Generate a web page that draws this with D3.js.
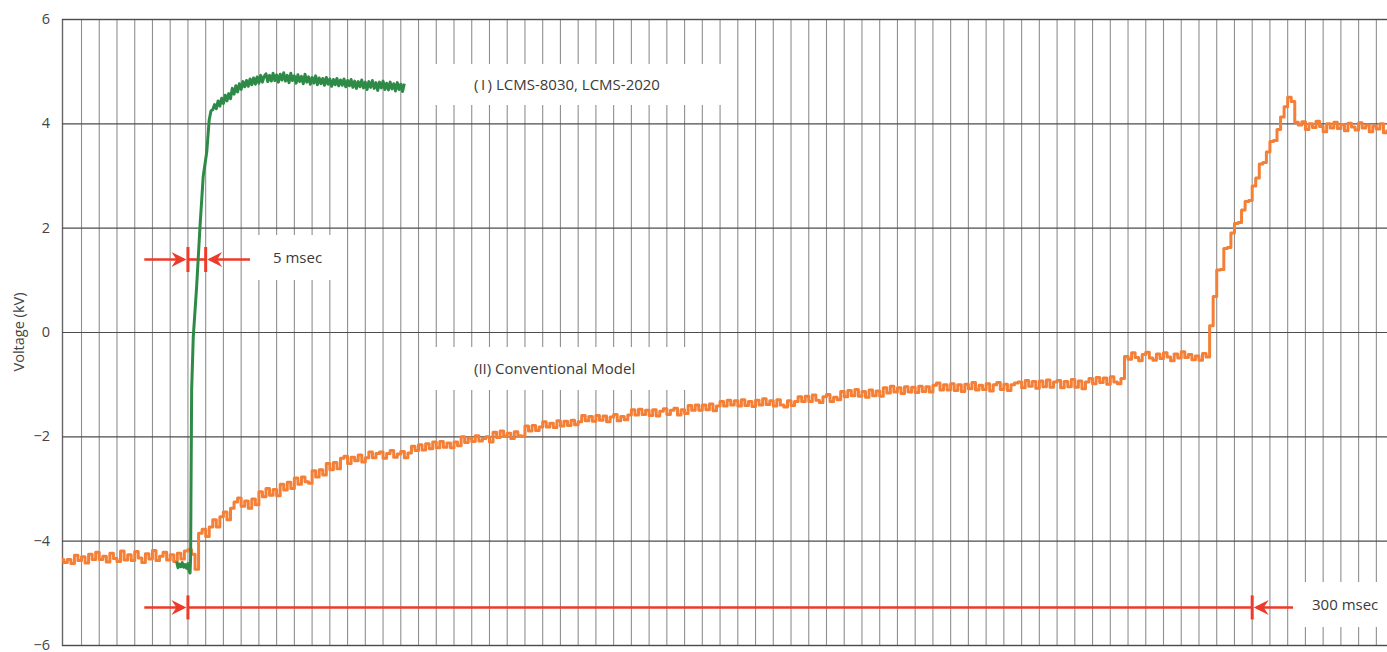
<!DOCTYPE html>
<html>
<head>
<meta charset="utf-8">
<script src="https://cdn.jsdelivr.net/npm/d3@7/dist/d3.min.js"></script>
<style>
  html, body { margin: 0; padding: 0; background: #fff; }
  svg { display: block; font-family: "Open Sans", "Noto Sans", sans-serif; }
</style>
</head>
<body>
<svg id="chart" width="1387" height="652"></svg>
<script>
// ---- Axis ticks -------------------------------------------------------
const voltageTicks = [-6, -4, -2, 0, 2, 4, 6];
const voltageTickLabels = ["\u22126", "\u22124", "\u22122", "0", "2", "4", "6"];
const axisTitle = "Voltage (kV)";

// ---- (II) Conventional model: oscilloscope samples, 1 ms apart ---------
const conventionalLabel = "(II) Conventional Model";
const conventionalStartMs = -36;
const conventionalStepMs = 1;
const conventionalKV = [
  -4.36, -4.42, -4.36, -4.44, -4.28, -4.38, -4.31, -4.43, -4.26, -4.36,
  -4.22, -4.36, -4.30, -4.41, -4.24, -4.34, -4.40, -4.20, -4.37, -4.27,
  -4.38, -4.21, -4.33, -4.42, -4.25, -4.35, -4.19, -4.38, -4.30, -4.22,
  -4.37, -4.27, -4.40, -4.24, -4.35, -4.20, -4.17, -4.26, -4.55, -3.86,
  -3.78, -3.92, -3.74, -3.60, -3.74, -3.54, -3.45, -3.60, -3.38, -3.26,
  -3.18, -3.34, -3.24, -3.38, -3.20, -3.31, -3.06, -3.16, -3.00, -3.13,
  -3.02, -3.14, -2.92, -3.03, -2.88, -3.00, -2.80, -2.92, -2.78, -2.87,
  -2.90, -2.66, -2.78, -2.64, -2.74, -2.52, -2.64, -2.50, -2.62, -2.42,
  -2.38, -2.52, -2.40, -2.47, -2.36, -2.49, -2.41, -2.30, -2.41, -2.33,
  -2.30, -2.42, -2.33, -2.27, -2.40, -2.34, -2.29, -2.41, -2.32, -2.19,
  -2.27, -2.16, -2.26, -2.14, -2.24, -2.11, -2.22, -2.10, -2.21, -2.13,
  -2.22, -2.11, -2.18, -2.01, -2.12, -2.03, -2.10, -1.99, -2.09, -2.04,
  -2.01, -2.11, -1.92, -2.02, -1.90, -2.00, -1.94, -2.04, -1.91, -1.99,
  -2.00, -1.80, -1.90, -1.79, -1.89, -1.82, -1.72, -1.82, -1.75, -1.83,
  -1.70, -1.80, -1.71, -1.79, -1.69, -1.78, -1.72, -1.60, -1.70, -1.62,
  -1.71, -1.60, -1.69, -1.61, -1.72, -1.63, -1.58, -1.70, -1.62, -1.68,
  -1.59, -1.49, -1.59, -1.48, -1.58, -1.50, -1.60, -1.49, -1.61, -1.52,
  -1.47, -1.58, -1.50, -1.46, -1.59, -1.49, -1.56, -1.41, -1.50, -1.40,
  -1.50, -1.40, -1.49, -1.38, -1.51, -1.42, -1.33, -1.42, -1.31, -1.40,
  -1.32, -1.42, -1.30, -1.41, -1.33, -1.43, -1.31, -1.40, -1.28, -1.39,
  -1.32, -1.42, -1.30, -1.40, -1.44, -1.32, -1.41, -1.33, -1.24, -1.33,
  -1.23, -1.33, -1.21, -1.31, -1.35, -1.24, -1.20, -1.33, -1.25, -1.30,
  -1.14, -1.24, -1.12, -1.22, -1.10, -1.23, -1.14, -1.25, -1.11, -1.22,
  -1.13, -1.23, -1.07, -1.17, -1.04, -1.15, -1.07, -1.18, -1.05, -1.15,
  -1.06, -1.16, -1.04, -1.14, -1.05, -1.15, -1.02, -0.98, -1.11, -1.01,
  -1.11, -0.99, -1.12, -1.01, -1.14, -1.00, -1.09, -0.97, -1.11, -1.02,
  -1.10, -0.99, -1.13, -1.01, -0.97, -1.10, -1.00, -1.12, -1.01, -0.98,
  -0.96, -1.07, -0.93, -1.04, -0.95, -1.08, -0.94, -1.05, -0.92, -1.06,
  -0.96, -0.93, -1.07, -0.95, -1.05, -0.91, -1.06, -0.94, -1.09, -0.96,
  -0.89, -0.99, -0.87, -0.97, -0.88, -1.00, -0.86, -0.96, -0.99, -0.89,
  -0.47, -0.52, -0.40, -0.49, -0.55, -0.43, -0.39, -0.50, -0.54, -0.42,
  -0.51, -0.40, -0.48, -0.55, -0.42, -0.50, -0.38, -0.49, -0.43, -0.53,
  -0.46, -0.54, -0.41, -0.48,
   0.12,  0.68,  1.19,  1.20,  1.60,  1.62,  1.90,  2.08,  2.10,  2.34,
   2.50,  2.52,  2.80,  2.95,  3.22,  3.25,  3.45,  3.65,  3.67,  3.88,
   4.12,  4.32,  4.50,  4.42,  4.02,
   3.97,  4.03,  3.88,  3.99,  3.92,  4.04,  3.94,  3.84,  3.99,  3.91,
   4.02,  3.90,  3.98,  3.86,  4.00,  3.93,  3.87,  4.01,  3.91,  3.97,
   3.84,  3.95,  3.89,  3.99,  3.82,  3.88
];

// ---- (I) LCMS-8030 / LCMS-2020: switching edge, then 0.5 ms samples ----
const lcmsLabel = "(\u2009I\u2009) LCMS-8030, LCMS-2020";
const lcmsEdgeMs = [-3.2, -2.8, -2.4, -2.0, -1.6, -1.2, -0.8, -0.4, 0.0, 0.3, 0.6,
                    0.75, 0.9, 1.05, 1.5, 2.45, 3.4, 4.3, 5.3, 6.0, 6.5];
const lcmsEdgeKV = [-4.40, -4.52, -4.45, -4.50, -4.42, -4.51, -4.46, -4.53, -4.44, -4.58, -4.62,
                    -4.35, -2.65, -1.10, -0.10, 0.87, 2.02, 2.98, 3.45, 4.07, 4.24];
const lcmsPlateauStartMs = 7;
const lcmsPlateauStepMs = 0.5;
const lcmsPlateauKV = [
  4.26, 4.36, 4.28, 4.43, 4.33, 4.48, 4.38, 4.54, 4.43, 4.57,
  4.47, 4.67, 4.56, 4.72, 4.60, 4.76, 4.65, 4.80, 4.70, 4.82,
  4.71, 4.85, 4.74, 4.87, 4.75, 4.89, 4.77, 4.92, 4.79, 4.90,
  4.95, 4.80, 4.92, 4.81, 4.96, 4.82, 4.93, 4.79, 4.94, 4.83,
  4.97, 4.81, 4.92, 4.78, 4.96, 4.82, 4.91, 4.77, 4.93, 4.80,
  4.90, 4.76, 4.94, 4.79, 4.89, 4.75, 4.88, 4.77, 4.91, 4.74,
  4.87, 4.76, 4.86, 4.73, 4.88, 4.75, 4.85, 4.71, 4.84, 4.74,
  4.86, 4.72, 4.83, 4.73, 4.85, 4.70, 4.82, 4.72, 4.84, 4.69,
  4.81, 4.67, 4.80, 4.70, 4.83, 4.68, 4.79, 4.65, 4.80, 4.69,
  4.82, 4.67, 4.78, 4.63, 4.79, 4.68, 4.81, 4.65, 4.77, 4.64,
  4.79, 4.66, 4.76, 4.62, 4.78, 4.65, 4.75, 4.61, 4.76
];

// ---- Timing annotations -------------------------------------------------
const switchMarksMs = [0, 5];         // "5 msec" bracket
const switchLabel = "5 msec";
const conventionalMarksMs = [0, 300]; // "300 msec" bracket
const conventionalSpanLabel = "300 msec";

// ---- Layout -------------------------------------------------------------
const W = 1387, H = 652;
const plot = { left: 62, right: 1387, top: 19, bottom: 645 };
const colors = {
  conventional: "#f47f36",
  lcms: "#2e8b47",
  marker: "#ee3a2a",
  grid: "#8f8f8f",
  major: "#4d4d4d",
  text: "#3a3a3a"
};
const labelSize = 15;

const svg = d3.select("#chart");
svg.append("rect").attr("width", W).attr("height", H).attr("fill", "#fff");

const x = d3.scaleLinear().domain([-35.5, 338]).range([plot.left, plot.right]);
const y = d3.scaleLinear().domain([-6, 6]).range([plot.bottom, plot.top]);

svg.append("defs").append("clipPath").attr("id", "plotClip")
  .append("rect")
  .attr("x", plot.left).attr("y", plot.top - 4)
  .attr("width", plot.right - plot.left).attr("height", plot.bottom - plot.top + 8);

// Vertical grid every 5 ms
const timeGrid = d3.range(-30, 338, 5);
svg.append("g").selectAll("line").data(timeGrid).join("line")
  .attr("x1", d => x(d)).attr("x2", d => x(d))
  .attr("y1", plot.top).attr("y2", plot.bottom)
  .attr("stroke", colors.grid).attr("stroke-width", 1.1);

// Horizontal grid every 2 kV with labels (d3 axis)
const yAxis = d3.axisLeft(y)
  .tickValues(voltageTicks)
  .tickFormat((d, i) => voltageTickLabels[i])
  .tickSize(-(plot.right - plot.left))
  .tickPadding(12);
const yg = svg.append("g").attr("transform", `translate(${plot.left},0)`).call(yAxis);
yg.select(".domain").attr("stroke", "#666").attr("stroke-width", 1.4);
yg.selectAll(".tick line").attr("stroke", colors.major).attr("stroke-width", 1.1);
yg.selectAll(".tick text")
  .attr("fill", "#444").attr("font-size", 14.5)
  .attr("font-family", "'Open Sans', 'Noto Sans', sans-serif");

svg.append("text")
  .attr("transform", `translate(19,${(plot.top + plot.bottom) / 2}) rotate(-90)`)
  .attr("text-anchor", "middle").attr("dy", "0.35em")
  .attr("font-size", 14.5).attr("fill", "#444")
  .text(axisTitle);

// White label plates that interrupt the grid
const plates = [
  { x0: 425, x1: 729, y0: 64, y1: 105, text: lcmsLabel, tx: 474 },
  { x0: 425, x1: 692, y0: 347, y1: 390, text: conventionalLabel, tx: 474 },
  { x0: 252, x1: 340, y0: 235, y1: 280, text: switchLabel, tx: 273 },
  { x0: 1297, x1: 1387, y0: 582, y1: 627, text: conventionalSpanLabel, tx: 1312 }
];
const pg = svg.append("g");
pg.selectAll("rect").data(plates).join("rect")
  .attr("x", d => d.x0).attr("y", d => d.y0)
  .attr("width", d => d.x1 - d.x0).attr("height", d => d.y1 - d.y0)
  .attr("fill", "#fff");
pg.selectAll("text").data(plates).join("text")
  .attr("x", d => d.tx).attr("y", d => (d.y0 + d.y1) / 2)
  .attr("dy", "0.35em")
  .attr("font-size", labelSize).attr("fill", colors.text)
  .text(d => d.text);

// Red timing brackets
function arrowHead(g, tipX, tipY, dir) {
  // dir = +1 points right, -1 points left
  const L = 15, h = 7.5, notch = 10;
  g.append("path")
    .attr("d", `M${tipX},${tipY} L${tipX - dir * L},${tipY - h} L${tipX - dir * notch},${tipY} L${tipX - dir * L},${tipY + h} Z`)
    .attr("fill", colors.marker);
}
function bracket(marks, kv, tailLeftMs, tailRightMs, tick) {
  const g = svg.append("g");
  const yy = y(kv);
  const xa = x(marks[0]), xb = x(marks[1]);
  const stroke = (x1, x2) => g.append("line")
    .attr("x1", x1).attr("x2", x2).attr("y1", yy).attr("y2", yy)
    .attr("stroke", colors.marker).attr("stroke-width", 2.6);
  stroke(x(tailLeftMs), xa - 4);
  stroke(xa, xb);
  stroke(xb + 4, x(tailRightMs));
  arrowHead(g, xa - 1.5, yy, 1);
  arrowHead(g, xb + 1.5, yy, -1);
  [xa, xb].forEach(xx => g.append("line")
    .attr("x1", xx).attr("x2", xx).attr("y1", yy - tick).attr("y2", yy + tick)
    .attr("stroke", colors.marker).attr("stroke-width", 3));
}
bracket(switchMarksMs, 1.39, -12.3, 17.5, 12.5);
bracket(conventionalMarksMs, -5.28, -12.3, 311.5, 12);

// Traces
const traces = svg.append("g").attr("clip-path", "url(#plotClip)");

const conventionalPts = conventionalKV.map((v, i) => [conventionalStartMs + i * conventionalStepMs, v]);
traces.append("path")
  .datum(conventionalPts)
  .attr("fill", "none")
  .attr("stroke", colors.conventional)
  .attr("stroke-width", 3)
  .attr("stroke-linejoin", "round")
  .attr("d", d3.line().x(d => x(d[0])).y(d => y(d[1])).curve(d3.curveStepAfter));

const lcmsPts = lcmsEdgeMs.map((t, i) => [t, lcmsEdgeKV[i]])
  .concat(lcmsPlateauKV.map((v, i) => [lcmsPlateauStartMs + i * lcmsPlateauStepMs, v]));
traces.append("path")
  .datum(lcmsPts)
  .attr("fill", "none")
  .attr("stroke", colors.lcms)
  .attr("stroke-width", 3)
  .attr("stroke-linejoin", "round")
  .attr("d", d3.line().x(d => x(d[0])).y(d => y(d[1])));
</script>
</body>
</html>
